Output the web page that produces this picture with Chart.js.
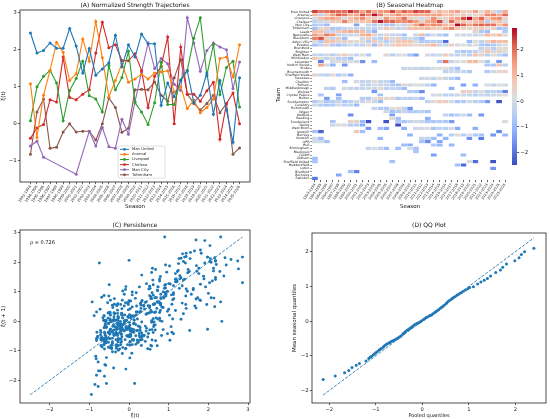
<!DOCTYPE html>
<html>
<head>
<meta charset="utf-8">
<script src="https://cdn.jsdelivr.net/npm/chart.js@4.4.1/dist/chart.umd.min.js"></script>
<style>
  body { margin: 0; background: #fff; width: 550px; height: 419px; overflow: hidden; position: relative; }
  canvas { position: absolute; }
</style>
</head>
<body>
<canvas id="panelA" width="275" height="210" style="left:0;top:0"></canvas>
<canvas id="panelB" width="275" height="210" style="left:275px;top:0"></canvas>
<canvas id="panelBar" width="45" height="210" style="left:505px;top:0"></canvas>
<canvas id="panelC" width="275" height="209" style="left:0;top:210px"></canvas>
<canvas id="panelD" width="275" height="209" style="left:275px;top:210px"></canvas>
<script>
const _ = null;
const E11 = [_,_,_,_,_,_,_,_,_,_,_];

const seasons = [
  "1993-1994","1994-1995","1995-1996","1996-1997","1997-1998","1998-1999","1999-2000","2000-2001",
  "2001-2002","2002-2003","2003-2004","2004-2005","2005-2006","2006-2007","2007-2008","2008-2009",
  "2009-2010","2010-2011","2011-2012","2012-2013","2013-2014","2014-2015","2015-2016","2016-2017",
  "2017-2018","2018-2019","2019-2020","2020-2021","2021-2022","2022-2023","2023-2024","2024-2025","2025-2026"
];

// panel A series (also the top six heatmap rows)
const manUnited = [2.45,1.91,1.98,2.18,2.04,2.04,2.57,2.10,1.37,2.03,1.31, 1.48,1.65,2.39,1.54,2.13,1.80,2.42,2.16,2.16,0.50,1.10, 0.73,1.17,1.43,0.57,0.77,1.37,0.26,1.17,0.37,-0.50,1.24];
const arsenal   = [1.08,-0.37,0.77,1.44,2.20,1.93,1.17,1.35,2.29,1.69,2.76, 1.78,0.73,1.17,1.62,1.12,1.21,1.34,1.21,1.37,1.40,1.43, 0.86,1.00,0.41,0.64,0.30,0.44,0.67,1.76,1.80,1.26,2.13];
const liverpool = [0.08,1.00,1.28,1.44,1.10,0.08,0.90,1.22,1.69,0.76,0.67, 0.32,1.57,0.92,1.25,1.96,0.57,0.32,-0.02,0.57,1.66,0.52, 0.52,1.19,1.44,2.31,2.86,1.31,2.14,0.79,1.52,1.69,0.45];
const chelsea   = [-0.39,-0.11,-0.02,0.65,0.59,1.80,0.71,0.65,0.80,0.92,1.91, 2.74,2.05,2.13,1.71,1.70,1.89,1.44,0.44,1.28,1.55,2.34, 0.00,2.07,0.80,0.80,0.61,0.89,1.12,-0.42,0.55,0.83,0.00];
const manCity   = [-0.60,-0.47,-0.90,_,_,_,_,-1.36,_,-0.20,-0.60, -0.10,-0.62,-0.66,0.12,-0.28,0.60,1.40,2.18,1.49,1.76,1.62, 1.07,0.90,2.86,2.18,1.42,1.98,2.18,2.07,2.00,0.95,1.67];
const tottenham = [-0.82,0.32,0.67,-0.66,-0.63,-0.22,0.00,-0.22,-0.20,-0.20,-0.44, 0.00,0.70,0.44,-0.23,-0.12,0.92,0.93,0.92,1.13,0.77,0.61, 1.24,1.73,0.80,0.55,0.37,0.55,0.77,0.30,0.55,-0.82,-0.65];

const lineTeams  = ["Man United","Arsenal","Liverpool","Chelsea","Man City","Tottenham"];
const lineSeries = [manUnited, arsenal, liverpool, chelsea, manCity, tottenham];
const lineColors = ["#1f77b4","#ff7f0e","#2ca02c","#d62728","#9467bd","#8c564b"];

// panel B rows
const teams = ["Man United","Arsenal","Liverpool","Chelsea","Man City","Tottenham","Leeds","Newcastle","Blackburn",
  "Aston Villa","Everton","Brentford","Brighton","West Ham","Wimbledon","Leicester","Nott'm Forest","Stoke",
  "Bournemouth","Sheffield Weds","Swansea","Charlton","Fulham","Middlesbrough","Wolves","Crystal Palace","Bolton",
  "Southampton","Coventry","Portsmouth","Wigan","Watford","Reading","Sunderland","Derby","West Brom","Ipswich",
  "Burnley","Norwich","QPR","Hull","Birmingham","Blackpool","Cardiff","Oldham","Sheffield United","Huddersfield",
  "Luton","Bradford","Barnsley","Swindon"];

const leeds        = [0.93,0.86,-0.28,-0.17,0.72,1.04,1.27,1.12,0.97,-0.42,-1.03, ...E11, _,_,_,_,_,0.41,-0.68,-0.87,_,_,-0.57];
const newcastle    = [1.47,1.02,1.88,1.53,-0.31,-0.26,-0.12,-0.08,1.18,1.34,0.62, -0.18,0.43,-0.33,-0.21,-0.79,_,-0.16,1.03,-0.64,0.04,-0.46, -0.83,_,0.02,-0.13,-0.07,-0.22,-0.09,1.08,0.58,0.97,0.34];
const blackburn    = [1.82,2.31,0.66,-0.29,0.57,-0.84,_,_,-0.03,0.61,-0.38, -0.47,0.72,0.08,0.49,-0.41,0.03,-0.44,-0.92,_,_,_, ...E11];
const astonVilla   = [0.21,-0.63,0.88,0.79,0.37,0.52,0.46,0.27,0.31,-0.54,0.63, -0.02,-0.48,0.04,0.69,0.81,0.77,0.11,-0.61,-0.58,-0.52,-0.57, -2.11,_,_,_,-0.88,0.19,-0.31,0.53,1.12,0.91,0.98];
const everton      = [-0.81,-0.37,0.58,-0.63,-0.79,-0.51,-0.06,-0.49,-0.41,0.47,-0.93, 0.66,-0.12,0.52,0.87,0.83,0.48,0.28,0.33,0.71,1.06,-0.18, -0.21,0.57,-0.03,0.17,-0.11,0.22,-0.71,-0.82,-0.59,-0.16,0.12];
const brentford    = [...E11, ...E11, _,_,_,_,_,_,-0.29,0.38,-0.47,0.21,0.32];
const brighton     = [...E11, ...E11, _,_,-0.42,-0.69,-0.53,-0.38,0.16,0.78,0.03,0.43,0.24];
const westHam      = [-0.19,-0.43,0.02,-0.52,0.29,0.61,0.09,-0.36,0.27,-0.64,_, _,0.33,-0.48,0.08,0.17,-0.78,-1.38,_,-0.04,-0.27,-0.09, 0.63,-0.12,-0.33,0.04,-0.51,0.86,0.47,-0.53,0.28,-0.31,-0.84];
const wimbledon    = [0.68,0.12,-0.37,0.26,-0.49,-0.43,-0.81,_,_,_,_, ...E11, ...E11];
const leicester    = [_,-1.92,_,-0.02,0.13,0.04,0.11,-0.08,-1.62,_,-0.91, _,_,_,_,_,_,_,_,_,_,-0.75, 1.98,-0.27,0.12,0.18,0.97,1.02,0.21,-0.72,_,-1.53,_];
const forest       = [_,1.31,0.07,-1.08,_,-1.52,_,_,_,_,_, ...E11, _,_,_,_,_,_,_,-0.62,-0.69,0.82,-0.48];
const stoke        = [...E11, _,_,_,_,-0.21,-0.08,-0.19,-0.32,-0.28,0.09,0.18, 0.22,-0.31,-0.83,_,_,_,_,_,_,_,_];
const bournemouth  = [...E11, ...E11, -0.39,0.01,-0.22,-0.27,-0.63,_,_,-0.58,-0.02,0.39,0.42];
const sheffWeds    = [0.52,-0.29,-0.48,0.31,-0.61,-0.17,-1.09,_,_,_,_, ...E11, ...E11];
const swansea      = [...E11, _,_,_,_,_,_,_,-0.11,0.02,-0.29,0.27, -0.18,-0.52,-0.88,_,_,_,_,_,_,_,_];
const charlton     = [_,_,_,_,_,-0.87,_,0.08,-0.31,-0.19,0.28, -0.22,-0.24,-0.94,_,_,_,_,_,_,_,_, ...E11];
const fulham       = [_,_,_,_,_,_,_,_,-0.33,-0.38,0.07, -0.29,-0.26,-0.61,-0.73,0.41,-0.16,0.12,0.06,-0.34,-1.04,_, _,_,_,-1.41,_,-1.12,_,0.09,-0.27,0.13,-0.06];
const middlesbrough= [_,_,-0.42,-0.57,_,0.03,-0.23,-0.38,-0.29,-0.07,-0.18, 0.26,-0.41,-0.32,-0.44,-0.91,_,_,_,_,_,_, _,-1.17,_,_,_,_,_,_,_,_,_];
const wolves       = [_,_,_,_,_,_,_,_,_,_,-1.48, _,_,_,_,_,-0.59,-0.73,-1.68,_,_,_, _,_,_,0.63,0.58,-0.28,0.17,-0.49,-0.33,-0.62,-1.86];
const palace       = [_,-0.72,_,_,-1.37,_,_,_,_,_,_, -0.79,_,_,_,_,_,_,_,_,-0.06,0.03, -0.43,-0.36,-0.18,-0.12,-0.29,-0.41,-0.17,-0.26,-0.08,0.04,0.19];
const bolton       = [_,_,-1.46,_,-0.83,_,_,_,-0.58,-0.63,0.19, 0.52,0.29,0.33,-0.62,-0.37,-0.47,-0.27,-0.82,_,_,_, ...E11];
const southampton  = [-0.59,0.03,-0.68,-0.57,-0.21,-0.72,-0.46,-0.01,-0.18,0.23,-0.16, -0.89,_,_,_,_,_,_,_,-0.38,0.29,0.61, 0.57,0.02,-0.71,-0.62,0.01,-0.48,-0.59,-1.49,_,-2.38,_];
const coventry     = [-0.02,-0.52,-0.71,-0.58,0.04,-0.47,-0.27,-0.98,_,_,_, ...E11, ...E11];
const portsmouth   = [_,_,_,_,_,_,_,_,_,_,-0.27, -0.58,-0.63,0.18,0.32,-0.39,-1.58,_,_,_,_,_, ...E11];
const wigan        = [...E11, _,0.02,-0.81,-0.57,-0.19,-0.68,-0.61,-0.42,-0.74,_,_, ...E11];
const watford      = [_,_,_,_,_,_,-1.71,_,_,_,_, _,_,-1.47,_,_,_,_,_,_,_,_, -0.31,-0.79,-0.52,-0.08,-0.92,_,-1.52,_,_,_,_];
const reading      = [...E11, _,_,0.31,-0.82,_,_,_,_,-1.21,_,_, ...E11];
const sunderland   = [_,_,_,-0.69,_,_,0.48,0.53,-0.95,-2.48,_, _,-2.41,_,-0.57,-0.72,-0.31,-0.07,-0.28,-0.69,-0.63,-0.58, -0.61,-1.47,_,_,_,_,_,_,_,_,0.31];
const derby        = [_,_,_,-0.18,0.21,0.08,-0.62,-0.57,-1.23,_,_, _,_,_,-2.50,_,_,_,_,_,_,_, ...E11];
const westBrom     = [_,_,_,_,_,_,_,_,_,-1.52,_, -0.83,-1.27,_,_,-1.19,_,-0.12,0.01,0.23,-0.71,-0.38, -0.42,0.02,-1.24,_,_,-1.18,_,_,_,_,_];
const ipswich      = [-0.78,-2.21,_,_,_,_,_,0.71,-0.83,_,_, ...E11, _,_,_,_,_,_,_,_,_,-1.73,_];
const burnley      = [...E11, _,_,_,_,_,-1.09,_,_,_,_,-1.13, _,-0.48,0.27,-0.53,0.11,-0.64,-0.79,_,-1.51,_,-0.97];
const norwich      = [-0.09,-0.93,_,_,_,_,_,_,_,_,_, -1.02,_,_,_,_,_,_,-0.21,-0.33,-0.81,_, -1.04,_,_,_,-1.61,_,-1.92,_,_,_,_];
const qpr          = [0.01,-0.04,-0.79,_,_,_,_,_,_,_,_, _,_,_,_,_,_,_,-0.77,-1.68,_,-1.31, ...E11];
const hull         = [...E11, _,_,_,_,-0.84,-1.18,_,_,_,-0.62,-0.94, _,-1.02,_,_,_,_,_,_,_,_,_];
const birmingham   = [_,_,_,_,_,_,_,_,_,-0.28,0.03, -0.32,-0.91,_,-0.87,_,0.08,-0.79,_,_,_,_, ...E11];
const blackpool    = [...E11, _,_,_,_,_,_,-0.71,_,_,_,_, ...E11];
const cardiff      = [...E11, _,_,_,_,_,_,_,_,_,-1.43,_, _,_,_,-0.91,_,_,_,_,_,_,_];
const oldham       = [-0.88,_,_,_,_,_,_,_,_,_,_, ...E11, ...E11];
const sheffUtd     = [-0.69,_,_,_,_,_,_,_,_,_,_, _,_,-0.78,_,_,_,_,_,_,_,_, _,_,_,_,0.14,-2.11,_,_,-2.39,_,_];
const huddersfield = [...E11, ...E11, _,_,-0.86,-2.14,_,_,_,_,_,_,_];
const luton        = [...E11, ...E11, _,_,_,_,_,_,_,_,-1.54,_,_];
const bradford     = [_,_,_,_,_,_,-0.82,-1.83,_,_,_, ...E11, ...E11];
const barnsley     = [_,_,_,_,-1.29,_,_,_,_,_,_, ...E11, ...E11];
const swindon      = [-1.94,_,_,_,_,_,_,_,_,_,_, ...E11, ...E11];

const heatRows = [manUnited, arsenal, liverpool, chelsea, manCity, tottenham, leeds, newcastle, blackburn,
  astonVilla, everton, brentford, brighton, westHam, wimbledon, leicester, forest, stoke, bournemouth, sheffWeds,
  swansea, charlton, fulham, middlesbrough, wolves, palace, bolton, southampton, coventry, portsmouth, wigan,
  watford, reading, sunderland, derby, westBrom, ipswich, burnley, norwich, qpr, hull, birmingham, blackpool,
  cardiff, oldham, sheffUtd, huddersfield, luton, bradford, barnsley, swindon];
const colorMin = -2.5, colorMax = 2.86;
const colorTicks = [-2, -1, 0, 1, 2];

// panel C
const persistRho = "\u03c1 = 0.726";
const persistDiag = [{x: -2.49, y: -2.49}, {x: 2.86, y: 2.86}];

// panel D
const qqPooled = [-2.13,-1.87,-1.67,-1.58,-1.51,-1.42,-1.35,-1.21,
  -1.15,-1.12,-1.09,-1.05,-1.03,-1.00,-0.97,-0.93,-0.91,-0.88,-0.84,-0.82,-0.79,-0.76,-0.72,-0.70,-0.67,-0.64,
  -0.61,-0.57,-0.55,-0.52,-0.49,-0.46,-0.42,-0.40,-0.37,-0.34,-0.31,-0.27,-0.25,-0.22,-0.19,-0.16,-0.12,-0.10,
  -0.07,-0.04,-0.01,0.03,0.05,0.08,0.11,0.15,0.17,0.20,0.23,0.27,0.29,0.32,0.35,0.39,0.41,0.44,0.47,0.51,
  0.53,0.56,0.59,0.63,0.65,0.68,0.71,0.75,0.77,0.81,0.84,0.88,0.93,0.98,
  1.02,1.10,1.19,1.26,1.33,1.40,1.47,1.58,1.68,1.73,1.81,1.99,2.08,2.13,2.20,2.40];
const qqMean = [-1.68,-1.58,-1.49,-1.42,-1.34,-1.27,-1.22,-1.15,
  -1.08,-1.04,-1.01,-0.97,-0.95,-0.91,-0.88,-0.84,-0.82,-0.79,-0.75,-0.72,-0.69,-0.66,-0.63,-0.62,-0.59,-0.57,
  -0.55,-0.52,-0.51,-0.49,-0.46,-0.43,-0.38,-0.35,-0.31,-0.28,-0.25,-0.21,-0.19,-0.16,-0.13,-0.10,-0.07,-0.06,
  -0.04,-0.02,0.01,0.05,0.07,0.10,0.12,0.15,0.16,0.18,0.21,0.25,0.27,0.30,0.33,0.37,0.39,0.42,0.46,0.50,
  0.53,0.57,0.60,0.64,0.66,0.69,0.71,0.75,0.76,0.80,0.82,0.86,0.90,0.93,
  0.97,0.99,1.07,1.13,1.18,1.23,1.30,1.40,1.47,1.55,1.65,1.74,1.83,1.92,2.00,2.10];
const qqDiag = [{x: -2.13, y: -2.13}, {x: 2.40, y: 2.40}];

// ---------- helpers ----------
Chart.defaults.font.family = '"DejaVu Sans", sans-serif';
Chart.defaults.color = "#222";

const minus = v => (v < 0 ? "\u2212" + Math.abs(v) : String(v));

const coolwarmStops = [
  [0, 59, 76, 192], [0.125, 98, 130, 234], [0.25, 141, 176, 254], [0.375, 184, 208, 245],
  [0.5, 221, 221, 221], [0.625, 245, 196, 173], [0.75, 244, 154, 123], [0.875, 222, 96, 77], [1, 180, 4, 38]
];
function coolwarm(v) {
  const t = Math.min(1, Math.max(0, (v - colorMin) / (colorMax - colorMin)));
  for (let k = 1; k < coolwarmStops.length; k++) {
    const a = coolwarmStops[k - 1], b = coolwarmStops[k];
    if (t <= b[0]) {
      const f = (t - a[0]) / (b[0] - a[0]);
      return "rgb(" + [1, 2, 3].map(c => Math.round(a[c] + f * (b[c] - a[c]))).join(",") + ")";
    }
  }
  return "rgb(180,4,38)";
}

const frame = {
  id: "frame",
  afterDraw(c) {
    const a = c.chartArea, ctx = c.ctx;
    ctx.save();
    ctx.strokeStyle = "#222";
    ctx.lineWidth = 0.8;
    ctx.strokeRect(a.left, a.top, a.right - a.left, a.bottom - a.top);
    ctx.restore();
  }
};

const panelTitle = {
  id: "panelTitle",
  afterDraw(c, args, o) {
    const a = c.chartArea, ctx = c.ctx;
    ctx.save();
    ctx.font = '6px "DejaVu Sans"';
    ctx.fillStyle = "#111";
    ctx.textAlign = "center";
    ctx.textBaseline = "middle";
    ctx.fillText(o.text, (a.left + a.right) / 2, a.top - o.gap);
    ctx.restore();
  }
};

const lineLegend = {
  id: "lineLegend",
  afterDraw(c, args, o) {
    if (!o.show) return;
    const a = c.chartArea, ctx = c.ctx;
    const x0 = a.left + 98, y0 = a.bottom - 36, w = 47, h = 32;
    ctx.save();
    ctx.fillStyle = "rgba(255,255,255,0.85)";
    ctx.strokeStyle = "#ccc";
    ctx.lineWidth = 0.6;
    ctx.beginPath();
    ctx.roundRect(x0, y0, w, h, 1.5);
    ctx.fill();
    ctx.stroke();
    ctx.font = '3.8px "DejaVu Sans"';
    ctx.textBaseline = "middle";
    c.data.datasets.forEach((d, k) => {
      const y = y0 + 3.3 + k * 5.1;
      ctx.strokeStyle = d.borderColor;
      ctx.lineWidth = 1;
      ctx.beginPath();
      ctx.moveTo(x0 + 2, y);
      ctx.lineTo(x0 + 11, y);
      ctx.stroke();
      ctx.fillStyle = d.borderColor;
      ctx.beginPath();
      ctx.arc(x0 + 6.5, y, 1.4, 0, Math.PI * 2);
      ctx.fill();
      ctx.fillStyle = "#222";
      ctx.fillText(d.label, x0 + 14, y);
    });
    ctx.restore();
  }
};

const note = {
  id: "note",
  afterDraw(c, args, o) {
    if (!o.text) return;
    const a = c.chartArea, ctx = c.ctx;
    ctx.save();
    ctx.font = '5px "DejaVu Sans"';
    ctx.fillStyle = "#111";
    ctx.textBaseline = "middle";
    ctx.fillText(o.text, a.left + o.dx, a.top + o.dy);
    ctx.restore();
  }
};

const colorbarFill = {
  id: "colorbarFill",
  beforeDatasetsDraw(c, args, o) {
    if (!o.show) return;
    const a = c.chartArea, ctx = c.ctx, y = c.scales.y;
    const yLo = y.getPixelForValue(colorMin), yHi = y.getPixelForValue(colorMax);
    const g = ctx.createLinearGradient(0, yLo, 0, yHi);
    coolwarmStops.forEach(s => g.addColorStop(s[0], "rgb(" + s[1] + "," + s[2] + "," + s[3] + ")"));
    ctx.save();
    ctx.fillStyle = g;
    ctx.fillRect(a.left, yHi, a.right - a.left, yLo - yHi);
    ctx.restore();
  }
};

function axisStyle(size) {
  return {
    border: { display: false },
    grid: { drawOnChartArea: false, drawTicks: true, tickLength: 2.2, color: "#222", lineWidth: 0.7 },
    ticks: { font: { size: size }, color: "#222", padding: 1, callback: v => minus(v) }
  };
}
function fixedTicks(values) {
  return s => { s.ticks = values.map(v => ({ value: v })); };
}
function axisTitle(text, size) {
  return { display: true, text: text, font: { size: size }, color: "#111", padding: { top: 0, bottom: 0.5 } };
}

// ---------- (A) trajectories ----------
new Chart(document.getElementById("panelA"), {
  type: "line",
  data: {
    datasets: lineSeries.map((vals, k) => ({
      label: lineTeams[k],
      data: vals.map((v, i) => ({ x: i, y: v })),
      borderColor: lineColors[k],
      backgroundColor: lineColors[k],
      borderWidth: 1.1,
      pointRadius: 1.5,
      pointBorderWidth: 0,
      spanGaps: true,
      tension: 0
    }))
  },
  options: {
    responsive: false,
    animation: false,
    layout: { padding: { top: 10, right: 25, left: 0, bottom: 0 } },
    plugins: {
      legend: { display: false },
      tooltip: { enabled: false },
      panelTitle: { text: "(A) Normalized Strength Trajectories", gap: 5 },
      lineLegend: { show: true }
    },
    scales: {
      x: {
        type: "linear", min: -1.6, max: 33.6,
        ...axisStyle(4),
        afterBuildTicks: fixedTicks(seasons.map((s, i) => i)),
        ticks: { font: { size: 3.6 }, color: "#222", padding: 0.5, autoSkip: false, minRotation: 55, maxRotation: 55,
                 callback: v => seasons[v] },
        afterFit: s => { s.height = 28; },
        title: axisTitle("Season", 5.5)
      },
      y: {
        min: -1.57, max: 3.07,
        ...axisStyle(5.5),
        afterBuildTicks: fixedTicks([-1, 0, 1, 2, 3]),
        afterFit: s => { s.width = 20; },
        title: axisTitle("\u03be(t)", 5.5)
      }
    }
  },
  plugins: [frame, panelTitle, lineLegend]
});

// ---------- (B) heatmap ----------
new Chart(document.getElementById("panelB"), {
  type: "bar",
  data: {
    labels: teams,
    datasets: seasons.map((s, j) => ({
      data: heatRows.map(r => (r[j] == null ? null : [j - 0.5, j + 0.5])),
      backgroundColor: heatRows.map(r => (r[j] == null ? "rgba(0,0,0,0)" : coolwarm(r[j]))),
      borderColor: "#ffffff",
      borderWidth: 0.45,
      borderSkipped: false,
      grouped: false,
      barPercentage: 1,
      categoryPercentage: 1
    }))
  },
  options: {
    indexAxis: "y",
    responsive: false,
    animation: false,
    layout: { padding: { top: 10, right: 42, left: 0, bottom: 0 } },
    plugins: {
      legend: { display: false },
      tooltip: { enabled: false },
      panelTitle: { text: "(B) Seasonal Heatmap", gap: 5 }
    },
    scales: {
      x: {
        type: "linear", min: -0.5, max: 32.5,
        ...axisStyle(3.6),
        afterBuildTicks: fixedTicks(seasons.map((s, i) => i)),
        ticks: { font: { size: 3.5 }, color: "#222", padding: 0.5, autoSkip: false, minRotation: 55, maxRotation: 55,
                 callback: v => seasons[v] },
        afterFit: s => { s.height = 30; },
        title: axisTitle("Season", 5.5)
      },
      y: {
        type: "category",
        border: { display: false },
        grid: { offset: false, drawOnChartArea: false, drawTicks: true, tickLength: 1.8, color: "#222", lineWidth: 0.5 },
        ticks: { font: { size: 3.25 }, color: "#222", padding: 0.8, autoSkip: false },
        afterFit: s => { s.width = 37; },
        title: axisTitle("Team", 5.5)
      }
    }
  },
  plugins: [panelTitle]
});

// ---------- (B) colorbar ----------
new Chart(document.getElementById("panelBar"), {
  type: "scatter",
  data: { datasets: [{ data: [] }] },
  options: {
    responsive: false,
    animation: false,
    layout: { padding: { top: 28, bottom: 45, left: 7, right: 0 } },
    plugins: { legend: { display: false }, tooltip: { enabled: false }, colorbarFill: { show: true } },
    scales: {
      x: { display: false, min: 0, max: 1 },
      y: {
        position: "right", min: colorMin, max: colorMax,
        ...axisStyle(5.5),
        afterBuildTicks: fixedTicks(colorTicks),
        afterFit: s => { s.width = 33; }
      }
    }
  },
  plugins: [colorbarFill]
});

// ---------- (C) persistence ----------
const persistPoints = [];
heatRows.forEach(r => {
  for (let j = 0; j < r.length - 1; j++) {
    if (r[j] != null && r[j + 1] != null) persistPoints.push({ x: r[j], y: r[j + 1] });
  }
});

new Chart(document.getElementById("panelC"), {
  type: "scatter",
  data: {
    datasets: [
      { data: persistDiag, showLine: true, borderColor: "#1f77b4", borderWidth: 0.9, borderDash: [3, 1.6], pointRadius: 0 },
      { data: persistPoints, backgroundColor: "#1f77b4", pointRadius: 1.45, pointBorderWidth: 0 }
    ]
  },
  options: {
    responsive: false,
    animation: false,
    layout: { padding: { top: 20, right: 25, left: 0, bottom: 0 } },
    plugins: {
      legend: { display: false },
      tooltip: { enabled: false },
      panelTitle: { text: "(C) Persistence", gap: 5 },
      note: { text: persistRho, dx: 10, dy: 13 }
    },
    scales: {
      x: {
        type: "linear", min: -2.75, max: 3.05,
        ...axisStyle(5.2),
        afterBuildTicks: fixedTicks([-2, -1, 0, 1, 2, 3]),
        afterFit: s => { s.height = 16; },
        title: axisTitle("\u03be(t)", 5)
      },
      y: {
        min: -2.77, max: 3.1,
        ...axisStyle(5.5),
        afterBuildTicks: fixedTicks([-2, -1, 0, 1, 2, 3]),
        afterFit: s => { s.width = 20; },
        title: axisTitle("\u03be(t + 1)", 5.5)
      }
    }
  },
  plugins: [frame, panelTitle, note]
});

// ---------- (D) QQ ----------
new Chart(document.getElementById("panelD"), {
  type: "scatter",
  data: {
    datasets: [
      { data: qqDiag, showLine: true, borderColor: "#1f77b4", borderWidth: 0.9, borderDash: [3, 1.6], pointRadius: 0 },
      { data: qqPooled.map((q, i) => ({ x: q, y: qqMean[i] })), backgroundColor: "#1f77b4", pointRadius: 1.5, pointBorderWidth: 0 }
    ]
  },
  options: {
    responsive: false,
    animation: false,
    layout: { padding: { top: 23, right: 1, left: 16, bottom: 0 } },
    plugins: {
      legend: { display: false },
      tooltip: { enabled: false },
      panelTitle: { text: "(D) QQ Plot", gap: 8 }
    },
    scales: {
      x: {
        type: "linear", min: -2.37, max: 2.66,
        ...axisStyle(5.2),
        afterBuildTicks: fixedTicks([-2, -1, 0, 1, 2]),
        afterFit: s => { s.height = 16; },
        title: axisTitle("Pooled quantiles", 5)
      },
      y: {
        min: -2.36, max: 2.54,
        ...axisStyle(5.5),
        afterBuildTicks: fixedTicks([-2, -1, 0, 1, 2]),
        afterFit: s => { s.width = 21; },
        title: axisTitle("Mean seasonal quantiles", 5.5)
      }
    }
  },
  plugins: [frame, panelTitle]
});
</script>
</body>
</html>
